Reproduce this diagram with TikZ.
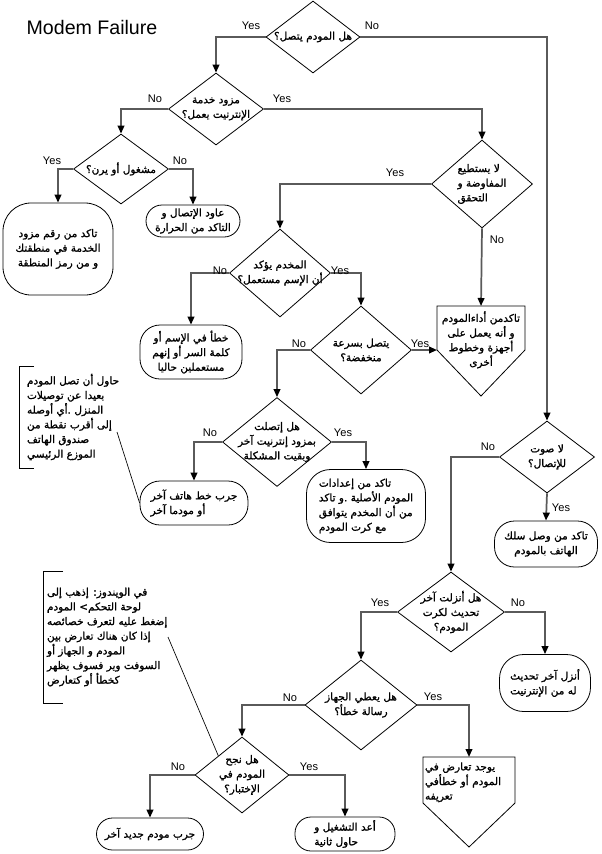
\documentclass[tikz,border=0pt]{standalone}
\usepackage{fontspec}
\setsansfont{Liberation Sans}
\newfontfamily\arfont[Script=Arabic, FakeBold=1.2]{DejaVu Sans}
\usetikzlibrary{shapes.geometric,arrows.meta}
\TeXXeTstate=1
\newcommand{\rl}[1]{\beginR #1\endR}
\definecolor{lnk}{HTML}{5A5A5A}

\begin{document}
\begin{tikzpicture}[x=0.75pt, y=-0.75pt,
  every node/.style={font=\arfont\fontsize{7.9}{11}\selectfont},
  decision/.style={diamond, draw, line width=0.6pt, inner sep=0pt},
  qtext/.style={align=center, inner sep=0pt},
  term/.style={rectangle, draw, line width=0.6pt, inner sep=1pt, align=center},
  offpage/.style={anchor=north, inner xsep=1.5pt, inner ysep=4pt, outer sep=0pt},
  note/.style={anchor=north west, align=left, outer sep=0pt},
  yn/.style={font=\sffamily\fontsize{8.3}{10}\selectfont, inner sep=0pt},
  link/.style={draw=lnk, line width=1.3pt, -{Triangle[length=6pt,width=5pt,color=black]}},
  lead/.style={draw, line width=0.5pt}]
  \useasboundingbox (0,0) rectangle (602,854);

  % title
  \node[font=\sffamily\fontsize{14.7}{17}\selectfont] (title) at (92,27) {Modem Failure};

  % questions
  \node[decision, minimum width=70.5pt, minimum height=54pt] (d1) at (313,37) {};
  \node[qtext] (d1t) at (d1) {\rl{هل المودم يتصل؟}};
  \node[decision, minimum width=71.25pt, minimum height=54pt] (d2) at (216,109) {};
  \node[qtext] (d2t) at (d2) {\rl{مزود خدمة}\\\rl{الإنترنيت يعمل؟}};
  \node[decision, minimum width=71.25pt, minimum height=52.5pt] (d4) at (121,169) {};
  \node[qtext] (d4t) at (d4) {\rl{مشغول أو يرن؟}};
  \node[decision, minimum width=75.75pt, minimum height=66pt] (d3) at (482,184) {};
  \node[qtext, align=left] (d3t) at (d3) {\rl{لا يستطيع}\\\rl{المفاوضة و}\\\rl{التحقق}};
  \node[decision, minimum width=75.75pt, minimum height=66pt] (d5) at (280,273) {};
  \node[qtext] (d5t) at (d5) {\rl{المخدم يؤكد}\\\rl{أن الإسم مستعمل؟}};
  \node[decision, minimum width=75.75pt, minimum height=66pt] (d6) at (361,350) {};
  \node[qtext] (d6t) at (d6) {\rl{يتصل بسرعة}\\\rl{منخفضة؟}};
  \node[decision, minimum width=81.75pt, minimum height=66.75pt] (d7) at (277,442) {};
  \node[qtext] (d7t) at (d7) {\rl{هل إتصلت}\\\rl{بمزود إنترنيت آخر}\\\rl{وبقيت المشكلة}};
  \node[decision, minimum width=71.25pt, minimum height=54pt] (d8) at (547,457) {};
  \node[qtext] (d8t) at (d8) {\rl{لا صوت}\\\rl{للإتصال؟}};
  \node[decision, minimum width=80.25pt, minimum height=60pt] (d9) at (451,612) {};
  \node[qtext] (d9t) at (d9) {\rl{هل أنزلت آخر}\\\rl{تحديث لكرت}\\\rl{المودم؟}};
  \node[decision, minimum width=84pt, minimum height=67.5pt] (d10) at (361,705) {};
  \node[qtext] (d10t) at (d10) {\rl{هل يعطي الجهاز}\\\rl{رسالة خطأ؟}};
  \node[decision, minimum width=70.5pt, minimum height=57pt] (d11) at (242,775) {};
  \node[qtext] (d11t) at (d11) {\rl{هل نجح}\\\rl{المودم في}\\\rl{الإختبار؟}};

  % answers
  \node[term, minimum width=82.5pt, minimum height=69pt, rounded corners=21pt] (b1) at (58,249)
    {\rl{تاكد من رقم مزود}\\\rl{الخدمة في منطقتك}\\\rl{و من رمز المنطقة}};
  \node[term, minimum width=70.5pt, minimum height=24pt, rounded corners=12pt] (b2) at (193,221)
    {\rl{عاود الإتصال و}\\\rl{التاكد من الحرارة}};
  \node[term, minimum width=76.5pt, minimum height=40.5pt, rounded corners=15pt] (b4) at (191,352)
    {\rl{خطأ في الإسم أو}\\\rl{كلمة السر أو إنهم}\\\rl{مستعملين حاليا}};
  \node[term, align=left, minimum width=81pt, minimum height=33pt, rounded corners=15pt] (b5) at (194,503)
    {\rl{جرب خط هاتف آخر}\\\rl{أو مودما آخر}};
  \node[term, align=left, minimum width=89.25pt, minimum height=54.75pt, rounded corners=18pt] (b6) at (366,506)
    {\rl{تاكد من إعدادات}\\\rl{المودم الأصلية .و تاكد}\\\rl{من أن المخدم يتوافق}\\\rl{مع كرت المودم}};
  \node[term, minimum width=77.25pt, minimum height=34.5pt, rounded corners=15pt] (b7) at (546,544)
    {\rl{تاكد من وصل سلك}\\\rl{الهاتف بالمودم}};
  \node[term, align=left, minimum width=68.25pt, minimum height=42.75pt, rounded corners=18pt] (b8) at (545,683)
    {\rl{أنزل آخر تحديث}\\\rl{له من الإنترنيت}};
  \node[term, minimum width=80.25pt, minimum height=24pt, rounded corners=12pt] (b10) at (150,834)
    {\rl{جرب مودم جديد آخر}};
  \node[term, align=left, minimum width=75pt, minimum height=25.5pt, rounded corners=12pt] (b11) at (345,834)
    {\rl{أعد التشغيل و}\\\rl{حاول ثانية}};

  % off-page boxes
  \node[offpage, minimum width=66pt, align=center] (b3) at (481,306)
    {\rl{تاكدمن أداءالمودم}\\\rl{و أنه يعمل على}\\\rl{أجهزة وخطوط}\\\rl{أخرى}};
  \draw[line width=0.6pt] (b3.north west) -- (b3.north east) -- ++(0,44)
    -- ([shift={(0,90)}]b3.north) -- ([shift={(0,44)}]b3.north west) -- cycle;
  \node[offpage, text width=66pt, align=left] (b9) at (469,757)
    {\rl{يوجد تعارض في}\\\rl{المودم أو خطأفي}\\\rl{تعريفه}};
  \draw[line width=0.6pt] (b9.north west) -- (b9.north east) -- ++(0,46)
    -- ([shift={(0,90)}]b9.north) -- ([shift={(0,46)}]b9.north west) -- cycle;

  % notes
  \node[note, inner xsep=6pt, minimum height=76.5pt] (c1) at (19,366)
    {\rl{حاول أن تصل المودم}\\\rl{بعيدا عن توصيلات}\\\rl{المنزل .أي أوصله}\\\rl{إلى أقرب نقطة من}\\\rl{صندوق الهاتف}\\\rl{الموزع الرئيسي}};
  \draw[line width=0.6pt] ([shift={(15,0)}]c1.north west) -- (c1.north west) -- (c1.south west) -- ++(15,0);
  \coordinate (c1tip) at (117,432);
  \draw[lead] (c1tip) -- (b5.west);
  \node[note, inner xsep=3pt, minimum height=99pt] (c2) at (43,571)
    {\rl{في الويندوز: إذهب إلى}\\\rl{لوحة التحكم> المودم}\\\rl{إضغط عليه لتعرف خصائصه}\\\rl{إذا كان هناك تعارض بين}\\\rl{المودم و الجهاز أو}\\\rl{السوفت وير فسوف يظهر}\\\rl{كخطأ أو كتعارض}};
  \draw[line width=0.6pt] ([shift={(20,0)}]c2.north west) -- (c2.north west) -- (c2.south west) -- ++(20,0);
  \coordinate (c2tip) at (168,637);
  \draw[lead] (c2tip) -- (d11.north west);

  % connectors
  \draw[link] (d1.west) -| (d2.north);
  \draw[link] (d1.east) -| (d8.north);
  \draw[link] (d2.west) -| (d4.north);
  \draw[link] (d2.east) -| (d3.north);
  \draw[link] (d4.west) -| (b1.north);
  \draw[link] (d4.east) -| (b2.north);
  \draw[link] (d3.west) -| (d5.north);
  \draw[link] (d3.south) -- (b3.north);
  \draw[link] (d5.west) -| (b4.north);
  \draw[link] (d5.east) -| (d6.north);
  \draw[link] (d6.east) -- ([shift={(0,44)}]b3.north west);
  \draw[link] (d6.west) -| (d7.north);
  \draw[link] (d7.west) -| (b5.north);
  \draw[link] (d7.east) -| (b6.north);
  \draw[link] (d8.west) -| (d9.north);
  \draw[link] (d8.south) -- (b7.north);
  \draw[link] (d9.west) -| (d10.north);
  \draw[link] (d9.east) -| (b8.north);
  \draw[link] (d10.west) -| (d11.north);
  \draw[link] (d10.east) -| (b9.north);
  \draw[link] (d11.west) -| (b10.north);
  \draw[link] (d11.east) -| (b11.north);

  % yes / no labels
  \node[yn] (d1yes) at (251,26) {Yes};
  \node[yn] (d1no) at (372,26) {No};
  \node[yn] (d2no) at (155,99) {No};
  \node[yn] (d2yes) at (282,99) {Yes};
  \node[yn] (d4yes) at (52,161) {Yes};
  \node[yn] (d4no) at (180,161) {No};
  \node[yn] (d3yes) at (395,173) {Yes};
  \node[yn] (d3no) at (497,240) {No};
  \node[yn] (d5no) at (220,271) {No};
  \node[yn] (d5yes) at (340,271) {Yes};
  \node[yn] (d6no) at (299,344) {No};
  \node[yn] (d6yes) at (420,344) {Yes};
  \node[yn] (d7no) at (210,433) {No};
  \node[yn] (d7yes) at (343,433) {Yes};
  \node[yn] (d8no) at (488,447) {No};
  \node[yn] (d8yes) at (561,508) {Yes};
  \node[yn] (d9yes) at (380,603) {Yes};
  \node[yn] (d9no) at (518,603) {No};
  \node[yn] (d10no) at (290,698) {No};
  \node[yn] (d10yes) at (433,697) {Yes};
  \node[yn] (d11no) at (178,767) {No};
  \node[yn] (d11yes) at (309,767) {Yes};
\end{tikzpicture}
\end{document}
